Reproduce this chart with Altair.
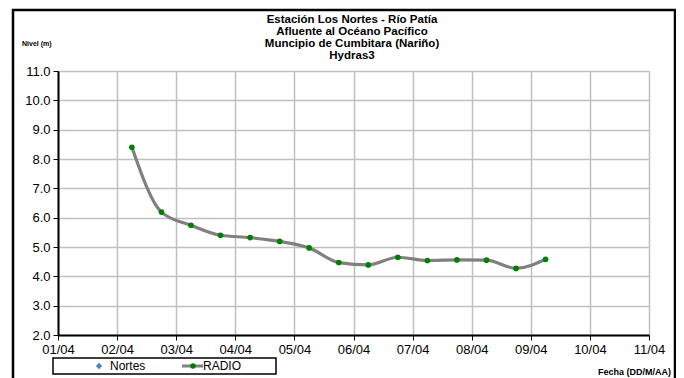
import altair as alt
import pandas as pd

# Data
fechas = [
    "2023-04-02T06:00", "2023-04-02T18:00", "2023-04-03T06:00", "2023-04-03T18:00",
    "2023-04-04T06:00", "2023-04-04T18:00", "2023-04-05T06:00", "2023-04-05T18:00",
    "2023-04-06T06:00", "2023-04-06T18:00", "2023-04-07T06:00", "2023-04-07T18:00",
    "2023-04-08T06:00", "2023-04-08T18:00", "2023-04-09T06:00",
]
nivel_radio = [8.40, 6.19, 5.74, 5.40, 5.32, 5.19, 4.97, 4.47, 4.39, 4.65, 4.54, 4.56, 4.55, 4.27, 4.58]

titulo = [
    "Estación Los Nortes  - Río Patía",
    "Afluente al Océano Pacífico",
    "Muncipio de Cumbitara (Nariño)",
    "Hydras3",
]
legend_names = ["Nortes", "RADIO"]

df = pd.DataFrame({"fecha": fechas, "nivel": nivel_radio})

FONT = "Liberation Sans"
W, H = 591, 264

x_ticks = [alt.DateTime(year=2023, month=4, date=d) for d in range(1, 12)]

xenc = alt.X(
    "fecha:T",
    scale=alt.Scale(domain=[alt.DateTime(year=2023, month=4, date=1),
                            alt.DateTime(year=2023, month=4, date=11)]),
    axis=alt.Axis(values=x_ticks, format="%d/%m", title=None, labelFontSize=13,
                  labelFont=FONT, labelColor="black", tickColor="black", tickSize=5,
                  domainColor="black", domainWidth=2, gridColor="#c0c0c0", gridWidth=1.5,
                  labelPadding=3, labelFlush=False, labelOverlap=False),
)
yenc = alt.Y(
    "nivel:Q",
    scale=alt.Scale(domain=[2, 11], nice=False, zero=False),
    axis=alt.Axis(values=list(range(2, 12)), format=".1f", title=None, labelFontSize=13,
                  labelFont=FONT, labelColor="black", tickColor="black", tickSize=5,
                  domainColor="black", domainWidth=2, gridColor="#c0c0c0", gridWidth=1.5,
                  labelPadding=3, labelOverlap=False, labelFlush=False),
)

base = alt.Chart(df).encode(x=xenc, y=yenc)
line = base.mark_line(color="#808080", strokeWidth=3.2, interpolate="monotone")
pts = base.mark_point(filled=True, color="#008000", size=32, opacity=1)

one = pd.DataFrame({"a": [0]})

# outer frame
frame = alt.Chart(one).mark_rect(fill=None, stroke="black", strokeWidth=2.5).encode(
    x=alt.value(-45), x2=alt.value(617), y=alt.value(-61), y2=alt.value(330))

# title as multi-line text
title_txt = alt.Chart(one).mark_text(text=titulo, font=FONT, fontSize=11.5, fontWeight="bold",
                                     align="center", baseline="top", lineHeight=12,
                                     color="black").encode(x=alt.value(294), y=alt.value(-57))

# labels
nivel_lbl = alt.Chart(one).mark_text(text="Nivel (m)", font=FONT, fontSize=7, fontWeight="bold",
                                     align="left", baseline="middle").encode(x=alt.value(-36), y=alt.value(-27))
fecha_lbl = alt.Chart(one).mark_text(text="Fecha (DD/M/AA)", font=FONT, fontSize=9, fontWeight="bold",
                                     align="right", baseline="middle").encode(x=alt.value(613), y=alt.value(301))

# manual legend
leg_box = alt.Chart(one).mark_rect(fill="white", stroke="black", strokeWidth=1.5).encode(
    x=alt.value(-5), x2=alt.value(218), y=alt.value(287), y2=alt.value(303))
leg_diamond = alt.Chart(one).mark_point(shape="diamond", filled=True, color="#4F81BD", size=40, opacity=1).encode(
    x=alt.value(41), y=alt.value(295))
leg_t1 = alt.Chart(one).mark_text(text=legend_names[0], font=FONT, fontSize=12, align="left",
                                  baseline="middle").encode(x=alt.value(52), y=alt.value(295))
leg_line = alt.Chart(one).mark_rule(color="#808080", strokeWidth=3).encode(
    x=alt.value(124), x2=alt.value(145), y=alt.value(295))
leg_dot = alt.Chart(one).mark_point(filled=True, color="#008000", size=30, opacity=1).encode(
    x=alt.value(135), y=alt.value(295))
leg_t2 = alt.Chart(one).mark_text(text=legend_names[1], font=FONT, fontSize=12, align="left",
                                  baseline="middle").encode(x=alt.value(145), y=alt.value(295))

chart = alt.layer(
    line, pts, frame, title_txt, nivel_lbl, fecha_lbl,
    leg_box, leg_diamond, leg_t1, leg_line, leg_dot, leg_t2
).properties(
    width=W, height=H,
    autosize=alt.AutoSizeParams(type="none"),
    padding={"left": 50, "top": 63, "right": 27, "bottom": 43},
).configure_view(stroke="#808080", strokeWidth=2).configure(background="white")

chart.save("out.html", embed_options={"renderer": "svg", "actions": False})
